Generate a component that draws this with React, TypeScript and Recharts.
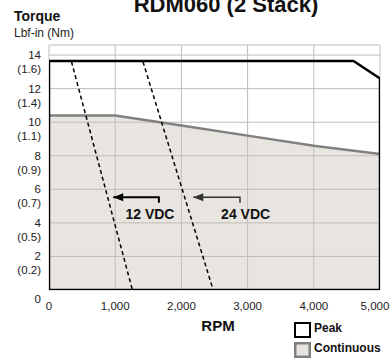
import React from 'react';
import {
    ComposedChart,
    Area,
    Line,
    Scatter,
    XAxis,
    YAxis,
    CartesianGrid
} from 'recharts';

const FONT = "'Liberation Sans', Arial, sans-serif";

// axis ticks
const rpmTicks = [0, 1000, 2000, 3000, 4000, 5000];
const rpmTickLabels = ['0', '1,000', '2,000', '3,000', '4,000', '5,000'];
const torqueTicks = [0, 2, 4, 6, 8, 10, 12, 14];
const nmLabels = ['', '(0.2)', '(0.5)', '(0.7)', '(0.9)', '(1.1)', '(1.4)', '(1.6)'];

// peak torque envelope (outline, lbf-in)
const peakRpm = [0, 0, 4600, 5000, 5000, 0];
const peakTorque = [0, 13.65, 13.65, 12.6, 0, 0];

// continuous torque
const contRpm = [0, 1000, 2000, 3000, 4000, 5000];
const contTorque = [10.4, 10.4, 9.8, 9.2, 8.6, 8.1];

// supply voltage limit lines
const vdc12Rpm = [340, 1260];
const vdc24Rpm = [1420, 2480];
const vdcTorque = [13.6, 0];

// call-out arrows
const arrow12Rpm = [970, 1660, 1660];
const arrow24Rpm = [2180, 2885, 2885];
const arrowTorque = [5.52, 5.52, 5.2];

const vdcLabelText = ['12 VDC', '24 VDC'];
const vdcLabelRpm = [1525, 2970];
const vdcLabelTorque = [4.55, 4.55];

const legendItems = ['Peak', 'Continuous'];

const zip = (xs: number[], ys: number[]) => xs.map((x, i) => ({ rpm: x, t: ys[i] }));

const peakData = zip(peakRpm, peakTorque);
const contData = zip(contRpm, contTorque);
const vdc12Data = zip(vdc12Rpm, vdcTorque);
const vdc24Data = zip(vdc24Rpm, vdcTorque);
const arrow12Data = zip(arrow12Rpm, arrowTorque);
const arrow24Data = zip(arrow24Rpm, arrowTorque);
const labelData = vdcLabelText.map((text, i) => ({ rpm: vdcLabelRpm[i], t: vdcLabelTorque[i], text }));

const YTick = (props: any) => {
    const { x, y, payload } = props;
    const i = torqueTicks.indexOf(payload.value);
    const nm = nmLabels[i];
    if (!nm) {
        return (
            <text x={x - 8} y={y + 13} textAnchor="end" fontSize={11.5} fill="#222" fontFamily={FONT}>
                {payload.value}
            </text>
        );
    }
    return (
        <g>
            <text x={x - 8} y={y + 4} textAnchor="end" fontSize={11.5} fill="#222" fontFamily={FONT}>
                {payload.value}
            </text>
            <text x={x - 8} y={y + 18} textAnchor="end" fontSize={11.5} fill="#222" fontFamily={FONT}>
                {nm}
            </text>
        </g>
    );
};

const XTick = (props: any) => {
    const { x, y, payload } = props;
    const i = rpmTicks.indexOf(payload.value);
    return (
        <text x={x} y={y + 20} textAnchor="middle" fontSize={11.5} fill="#222" fontFamily={FONT}>
            {rpmTickLabels[i]}
        </text>
    );
};

const arrowDot = (props: any) => {
    const { cx, cy, index, stroke } = props;
    if (index !== 0) return <g key={`d${index}`} />;
    return (
        <polygon
            key={`d${index}`}
            points={`${cx},${cy} ${cx + 10},${cy - 4} ${cx + 10},${cy + 4}`}
            fill={stroke}
        />
    );
};

const LabelShape = (props: any) => {
    const { cx, cy, payload } = props;
    return (
        <text x={cx} y={cy + 5} textAnchor="middle" fontSize={14} fontWeight="bold" fill="#111" fontFamily={FONT}>
            {payload.text}
        </text>
    );
};

export default function App() {
    return (
        <div style={{ position: 'absolute', left: 0, top: 0, width: 391, height: 360, background: '#fff', overflow: 'hidden' }}>
            <div style={{ position: 'absolute', left: 0, top: 0 }}>
                <ComposedChart
                    width={391}
                    height={360}
                    data={contData}
                    margin={{ top: 45, right: 11, left: 0, bottom: 40 }}
                >
                    <CartesianGrid stroke="#bdbdbd" strokeWidth={1} />
                    <XAxis
                        type="number"
                        dataKey="rpm"
                        domain={[0, 5000]}
                        ticks={rpmTicks}
                        tick={<XTick />}
                        tickSize={0}
                        tickMargin={0}
                        axisLine={false}
                        height={30}
                        allowDataOverflow
                    />
                    <YAxis
                        type="number"
                        dataKey="t"
                        domain={[0, 14.6]}
                        ticks={torqueTicks}
                        tick={<YTick />}
                        tickSize={0}
                        tickMargin={0}
                        axisLine={false}
                        width={49}
                        allowDataOverflow
                    />
                    <Area
                        type="linear"
                        dataKey="t"
                        stroke="#808080"
                        strokeWidth={2.5}
                        fill="#c6bfb5"
                        fillOpacity={0.4}
                        isAnimationActive={false}
                    />
                    <Line data={vdc12Data} dataKey="t" stroke="#000" strokeWidth={1.5} strokeDasharray="4 3" dot={false} isAnimationActive={false} />
                    <Line data={vdc24Data} dataKey="t" stroke="#000" strokeWidth={1.5} strokeDasharray="4 3" dot={false} isAnimationActive={false} />
                    <Line data={arrow12Data} dataKey="t" stroke="#000" strokeWidth={2} dot={arrowDot} isAnimationActive={false} />
                    <Line data={arrow24Data} dataKey="t" stroke="#333" strokeWidth={1.5} dot={arrowDot} isAnimationActive={false} />
                    <Line data={peakData} dataKey="t" stroke="#000" strokeWidth={2.5} dot={false} isAnimationActive={false} />
                    <Scatter data={labelData} dataKey="t" shape={<LabelShape />} isAnimationActive={false} />
                </ComposedChart>
            </div>
            <svg width={391} height={360} style={{ position: 'absolute', left: 0, top: 0, pointerEvents: 'none' }}>
                <text x={226} y={12} textAnchor="middle" fontSize={22} fontWeight="bold" fontFamily={FONT} fill="#111">
                    RDM060 (2 Stack)
                </text>
                <text x={14} y={21} fontSize={14} fontWeight="bold" fontFamily={FONT} fill="#111">Torque</text>
                <text x={14} y={37} fontSize={12} fontFamily={FONT} fill="#222">Lbf-in (Nm)</text>
                <text x={218} y={331} textAnchor="middle" fontSize={15} fontWeight="bold" fontFamily={FONT} fill="#111">RPM</text>
                <rect x={295} y={323} width={15} height={14} fill="#fff" stroke="#000" strokeWidth={2} />
                <text x={314} y={332} fontSize={12} fontWeight="bold" fontFamily={FONT} fill="#111">{legendItems[0]}</text>
                <rect x={295.25} y={343.25} width={14.5} height={13.5} fill="#e8e5e1" stroke="#808080" strokeWidth={2.5} />
                <text x={314} y={352} fontSize={12} fontWeight="bold" fontFamily={FONT} fill="#111">{legendItems[1]}</text>
            </svg>
        </div>
    );
}
